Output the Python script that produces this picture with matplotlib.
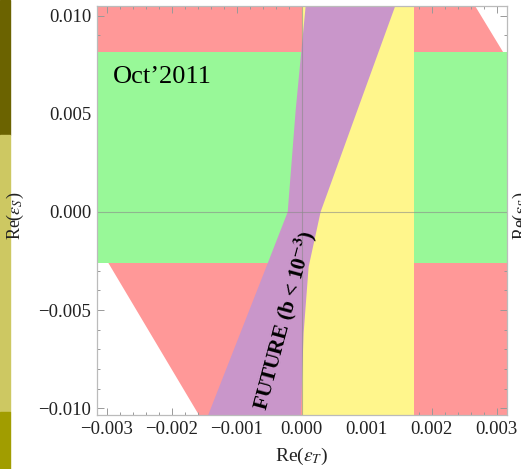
import matplotlib
matplotlib.use("Agg")
import matplotlib.pyplot as plt
from matplotlib.patches import Polygon, Rectangle
from matplotlib.ticker import MultipleLocator, FuncFormatter

plt.rcParams['mathtext.fontset'] = 'stix'
plt.rcParams['font.family'] = ['Liberation Serif', 'DejaVu Serif']

# ---- data ----
xlim = (-0.00315, 0.00316)
ylim = (-0.01035, 0.0105)

# excluded (red) band: bounded by two parallel lines of negative slope
red_lower_line = [(-0.00158, -0.01036), (-0.002975, -0.0026)]
red_upper_line = [(0.002669, 0.0105), (0.003098, 0.00816)]

# allowed Re(eps_S) range (green)
green_y = (-0.00259, 0.00818)

# allowed Re(eps_T) range (yellow)
yellow_x = (0.0, 0.001725)

# future sensitivity band (purple): left and right boundaries (x, y)
purple_left_x = [0.0000613, -0.000092, -0.000215, -0.000521, -0.00144]
purple_left_y = [0.0105, 0.0052, 0.0, -0.0026, -0.01036]
purple_right_x = [0.00144, 0.000859, 0.000291, 0.000107, 0.00003, -0.000015]
purple_right_y = [0.0105, 0.0052, 0.0, -0.0028, -0.00617, -0.01036]

x_major = 0.001
x_minor = 0.0002
y_major = 0.005
y_minor = 0.001

c_red = '#FF9898'
c_green = '#98F898'
c_yellow = '#FFF68C'
c_purple = '#C996CA'

W, H = 521, 469
fig = plt.figure(figsize=(W / 100, H / 100), dpi=100)

# slide decoration strips on the left
fig.patches.append(Rectangle((0, 1 - 135 / H), 10 / W, 135 / H, transform=fig.transFigure,
                             color='#6B6300', zorder=0))
fig.patches.append(Rectangle((0, 1 - 412 / H), 10 / W, (412 - 135) / H, transform=fig.transFigure,
                             color='#CDC862', zorder=0))
fig.patches.append(Rectangle((0, 0), 10 / W, (H - 412) / H, transform=fig.transFigure,
                             color='#A19D00', zorder=0))

ax = fig.add_axes([97 / W, 1 - 415 / H, 410 / W, 409 / H])
ax.set_xlim(*xlim)
ax.set_ylim(*ylim)


def line_at_x(p, x):
    (x1, y1), (x2, y2) = p
    s = (y2 - y1) / (x2 - x1)
    return y1 + s * (x - x1)


# red band polygon
xa, xb = xlim
ya, yb = ylim
red_poly = [
    (xa, yb),
    red_upper_line[0],
    (xb, line_at_x(red_upper_line, xb)),
    (xb, ya),
    red_lower_line[0],
    (xa, line_at_x(red_lower_line, xa)),
]
ax.add_patch(Polygon(red_poly, closed=True, facecolor=c_red, edgecolor='none', zorder=1))

ax.axhspan(green_y[0], green_y[1], facecolor=c_green, edgecolor='none', zorder=2)
ax.axvspan(yellow_x[0], yellow_x[1], facecolor=c_yellow, edgecolor='none', zorder=3)

pp = list(zip(purple_left_x, purple_left_y)) + list(zip(purple_right_x, purple_right_y))[::-1]
ax.add_patch(Polygon(pp, closed=True, facecolor=c_purple, edgecolor='none', zorder=4))

ax.axhline(0, color='#8a8a8a', lw=0.8, alpha=0.6, zorder=5)
ax.axvline(0, color='#8a8a8a', lw=0.8, alpha=0.6, zorder=5)

# ticks
ax.xaxis.set_major_locator(MultipleLocator(x_major))
ax.xaxis.set_minor_locator(MultipleLocator(x_minor))
ax.yaxis.set_major_locator(MultipleLocator(y_major))
ax.yaxis.set_minor_locator(MultipleLocator(y_minor))


def fmt(v, pos):
    if abs(v) < 1e-12:
        v = 0.0
    return f"{v:.3f}".replace('-', '\u2212')


ax.xaxis.set_major_formatter(FuncFormatter(fmt))
ax.yaxis.set_major_formatter(FuncFormatter(fmt))
ax.tick_params(which='both', direction='in', top=True, right=True, color='#999999',
               labelsize=13.5, labelcolor='#222222', width=0.7)
ax.tick_params(which='major', length=5, pad=4)
ax.tick_params(which='minor', length=2.5)
for sp in ax.spines.values():
    sp.set_color('#BBBBBB')
    sp.set_linewidth(0.9)
    sp.set_zorder(6)

ax.set_xlabel(r'Re($\epsilon_T$)', fontsize=14, color='#222222', labelpad=6)

fig.text(15 / W, 1 - 216 / H, r'Re($\epsilon_S$)', rotation=90, ha='center', va='center',
         fontsize=13, color='#222222')
fig.text(521.5 / W, 1 - 216 / H, r'Re($\epsilon_S$)', rotation=90, ha='center', va='center',
         fontsize=13, color='#222222')

ax.text(-0.0029, 0.00658, 'Oct\u20192011', fontsize=19, ha='left', va='baseline',
        color='black', zorder=7)
ax.text(-0.000268, -0.00551, r'FUTURE (b < 10$^{\mathbf{-3}}$)', fontsize=15.5,
        fontweight='bold', rotation=75, rotation_mode='anchor', ha='center', va='center',
        color='black', zorder=7)

fig.savefig('out.png', dpi=100)
